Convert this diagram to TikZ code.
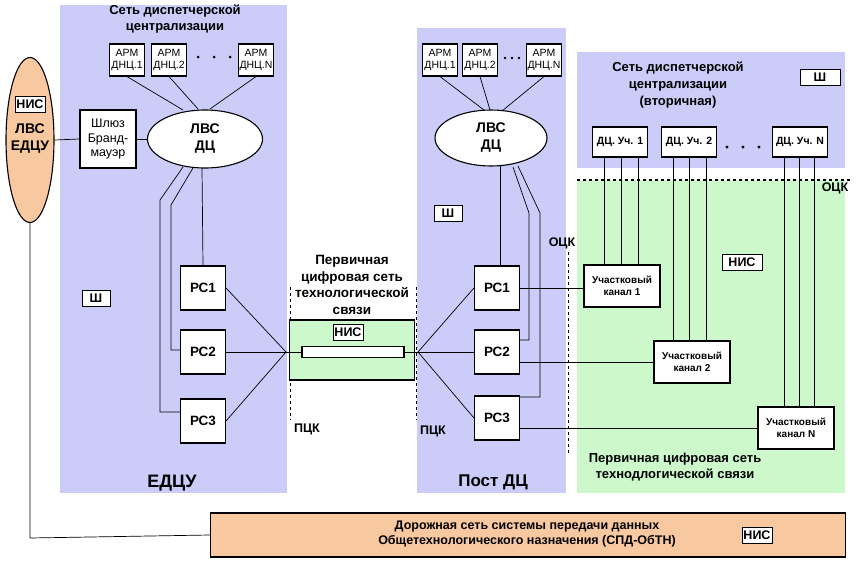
\documentclass[tikz,border=0pt]{standalone}
\usepackage{fontspec}
\setmainfont{Liberation Sans}
\usetikzlibrary{shapes.geometric}
\begin{document}
\begin{tikzpicture}[x=1pt,y=-1pt,
  box/.style={draw,line width=1.1pt,fill=white,inner sep=1pt,align=center},
  lbl/.style={font=\bfseries\fontsize{12.5}{14.5}\selectfont,align=center},
  arm/.style={box,font=\fontsize{10.5}{11.5}\selectfont,minimum width=35pt,minimum height=32pt},
  rc/.style={box,font=\bfseries\fontsize{13.5}{15}\selectfont,minimum width=45pt,minimum height=44pt},
  uk/.style={box,font=\bfseries\fontsize{10}{12.5}\selectfont,minimum width=76pt,minimum height=42pt},
  dcu/.style={box,font=\bfseries\fontsize{10.5}{12}\selectfont,minimum width=55pt,minimum height=30pt},
  tag/.style={draw,fill=white,font=\bfseries\fontsize{12.5}{13}\selectfont,inner sep=1.5pt,minimum width=28pt,minimum height=16pt},
  ln/.style={line width=0.7pt},
  dsh/.style={line width=1.2pt,dashed}]
\useasboundingbox (0,0) rectangle (863,562);
\fill[white] (0,0) rectangle (863,562);
\definecolor{pblue}{HTML}{CCCCF8}
\definecolor{pgreen}{HTML}{CCF8CC}
\definecolor{porange}{HTML}{F8C8A0}
% panels
\fill[pblue] (60,5) rectangle (287,493);
\fill[pblue] (417,28) rectangle (566,493);
\fill[pblue] (577,52) rectangle (845,168);
\fill[pgreen] (577,180) rectangle (845,493);
\draw[dsh] (577,180) -- (850,180);
% ellipse EDCU
\node[ellipse,draw,line width=1.1pt,fill=porange,minimum width=48pt,minimum height=165pt,inner sep=0pt] (edcu) at (30,140) {};
\node[tag] (nis0) at (30,104) {НИС};
\node[lbl,font=\bfseries\fontsize{14}{17}\selectfont] at (30,139) {ЛВС\\ЕДЦУ};
% bottom orange
\node[draw,line width=1.1pt,fill=porange,minimum width=635pt,minimum height=44pt] (spd) at (528,535) {};
\node[lbl] at (527,534) {Дорожная сеть системы передачи данных\\Общетехнологического назначения (СПД-ОбТН)};
\node[tag] at (757,535) {НИС};
\coordinate (cb) at (30,538);
\draw[ln] (edcu.south) -- (cb) -- (spd.west);
% left panel
\node[lbl,font=\bfseries\fontsize{13}{16}\selectfont] at (175,19) {Сеть диспетчерской\\централизации};
\node[box,font=\fontsize{12.5}{14.5}\selectfont,minimum width=56pt,minimum height=58pt] (gw) at (108,139) {Шлюз\\Бранд-\\мауэр};
\node[ellipse,draw,line width=1.1pt,fill=white,minimum width=115pt,minimum height=58pt,font=\bfseries\fontsize{14}{17}\selectfont,align=center] (lvs1) at (205,139) {ЛВС\\ДЦ};
\draw[ln] (edcu.east) -- (gw.west);
\draw[ln] (gw.east) -- (lvs1.west);
\node[arm] (a11) at (127,60) {АРМ\\ДНЦ.1};
\node[arm] (a12) at (169,60) {АРМ\\ДНЦ.2};
\node[arm] (a1n) at (256,60) {АРМ\\ДНЦ.N};
\foreach \x in {198,214,230} \fill (\x,57) circle (1.5);
\draw[ln] (a11.south) -- (183,110);
\draw[ln] (a12.south) -- (198,109);
\draw[ln] (a1n.south) -- (210,109);
\node[rc] (r11) at (203,288) {РС1};
\node[rc] (r12) at (203,352) {РС2};
\node[rc] (r13) at (203,421) {РС3};
\draw[ln] (202,168) -- (r11.north);
\coordinate (d1a) at (160,200); \coordinate (d1b) at (160,412);
\coordinate (d2a) at (171,205); \coordinate (d2b) at (171,350);
\draw[ln] (183,167) -- (d1a) -- (d1b) -- (r13.west|-d1b);
\draw[ln] (193,168) -- (d2a) -- (d2b) -- (r12.west|-d2b);
\node[tag] at (96,298) {Ш};
\node[font=\bfseries\fontsize{18}{20}\selectfont] at (172,483) {ЕДЦУ};
% middle zone
\node[lbl,font=\bfseries\fontsize{13.5}{16.5}\selectfont] at (352,285) {Первичная\\цифровая сеть\\технологической\\связи};
\draw[dsh,line width=1pt] (290,287) -- (290,420);
\draw[dsh,line width=1pt] (416,287) -- (416,420);
\node[lbl] at (307,429) {ПЦК};
\node[lbl] at (433,431) {ПЦК};
\node[draw,line width=1.1pt,fill=pgreen,minimum width=125pt,minimum height=60pt] (gb) at (352,350) {};
\node[tag] at (348,332) {НИС};
\node[draw,line width=1.1pt,fill=white,minimum width=102pt,minimum height=11pt,inner sep=0pt] (ch) at (353,352) {};
\coordinate (pl) at (286,352);
\coordinate (pr) at (418,352);
\draw[ln] (r11.east) -- (pl); \draw[ln] (r12.east) -- (pl); \draw[ln] (r13.east) -- (pl);
\draw[ln] (pl) -- (ch.west); \draw[ln] (ch.east) -- (pr);
% middle panel
\node[arm] (a21) at (440,60) {АРМ\\ДНЦ.1};
\node[arm] (a22) at (480,60) {АРМ\\ДНЦ.2};
\node[arm] (a2n) at (544,60) {АРМ\\ДНЦ.N};
\foreach \x in {505,512,519} \fill (\x,58) circle (1.4);
\node[ellipse,draw,line width=1.1pt,fill=white,minimum width=112pt,minimum height=56pt,font=\bfseries\fontsize{14}{17}\selectfont,align=center] (lvs2) at (491,138) {ЛВС\\ДЦ};
\draw[ln] (a21.south) -- (484,110);
\draw[ln] (a22.south) -- (490,110);
\draw[ln] (a2n.south) -- (502,111);
\node[tag] at (448,213) {Ш};
\node[rc] (r21) at (497,288) {РС1};
\node[rc] (r22) at (497,352) {РС2};
\node[rc] (r23) at (497,418) {РС3};
\draw[ln] (500,166) -- (500,266);
\coordinate (m1a) at (529,213); \coordinate (m1b) at (529,340);
\coordinate (m2a) at (540,213); \coordinate (m2b) at (540,397);
\draw[ln] (513,167) -- (m1a) -- (m1b) -- (r22.east|-m1b);
\draw[ln] (518,166) -- (m2a) -- (m2b) -- (r23.east|-m2b);
\draw[ln] (pr) -- (r21.west); \draw[ln] (pr) -- (r22.west); \draw[ln] (pr) -- (r23.west);
\node[font=\bfseries\fontsize{17}{20}\selectfont] at (493,482) {Пост ДЦ};
% right
\node[lbl,font=\bfseries\fontsize{13}{17}\selectfont] at (678,85) {Сеть диспетчерской\\централизации\\(вторичная)};
\node[tag,minimum width=40pt] at (820,77) {Ш};
\node[dcu] (d1) at (620,142) {ДЦ. Уч. 1};
\node[dcu] (d2) at (689,142) {ДЦ. Уч. 2};
\node[dcu] (dn) at (800,142) {ДЦ. Уч. N};
\foreach \x in {727,743,759} \fill (\x,147) circle (1.6);
\node[lbl] at (835,188) {ОЦК};
\node[lbl] at (562,243) {ОЦК};
\draw[dsh,line width=1pt] (568,252) -- (568,455);
\node[tag,minimum width=40pt] at (742,262) {НИС};
\node[uk] (u1) at (622,286) {Участковый\\канал 1};
\node[uk] (u2) at (692,362) {Участковый\\канал 2};
\node[uk] (un) at (796,428) {Участковый\\канал N};
\foreach \x in {604,621,638} \draw[ln] (\x,157) -- (\x,265);
\foreach \x in {673,689,706} \draw[ln] (\x,157) -- (\x,341);
\foreach \x in {784,799,814} \draw[ln] (\x,157) -- (\x,407);
\draw[ln] (r21.east) -- (u1.west|-r21.east);
\draw[ln] (r22.east|-u2.west) -- (u2.west);
\draw[ln] (r23.east|-un.west) -- (un.west);
\node[lbl,font=\bfseries\fontsize{13}{16}\selectfont] at (675,467) {Первичная цифровая сеть\\технодлогической  связи};
\end{tikzpicture}
\end{document}
